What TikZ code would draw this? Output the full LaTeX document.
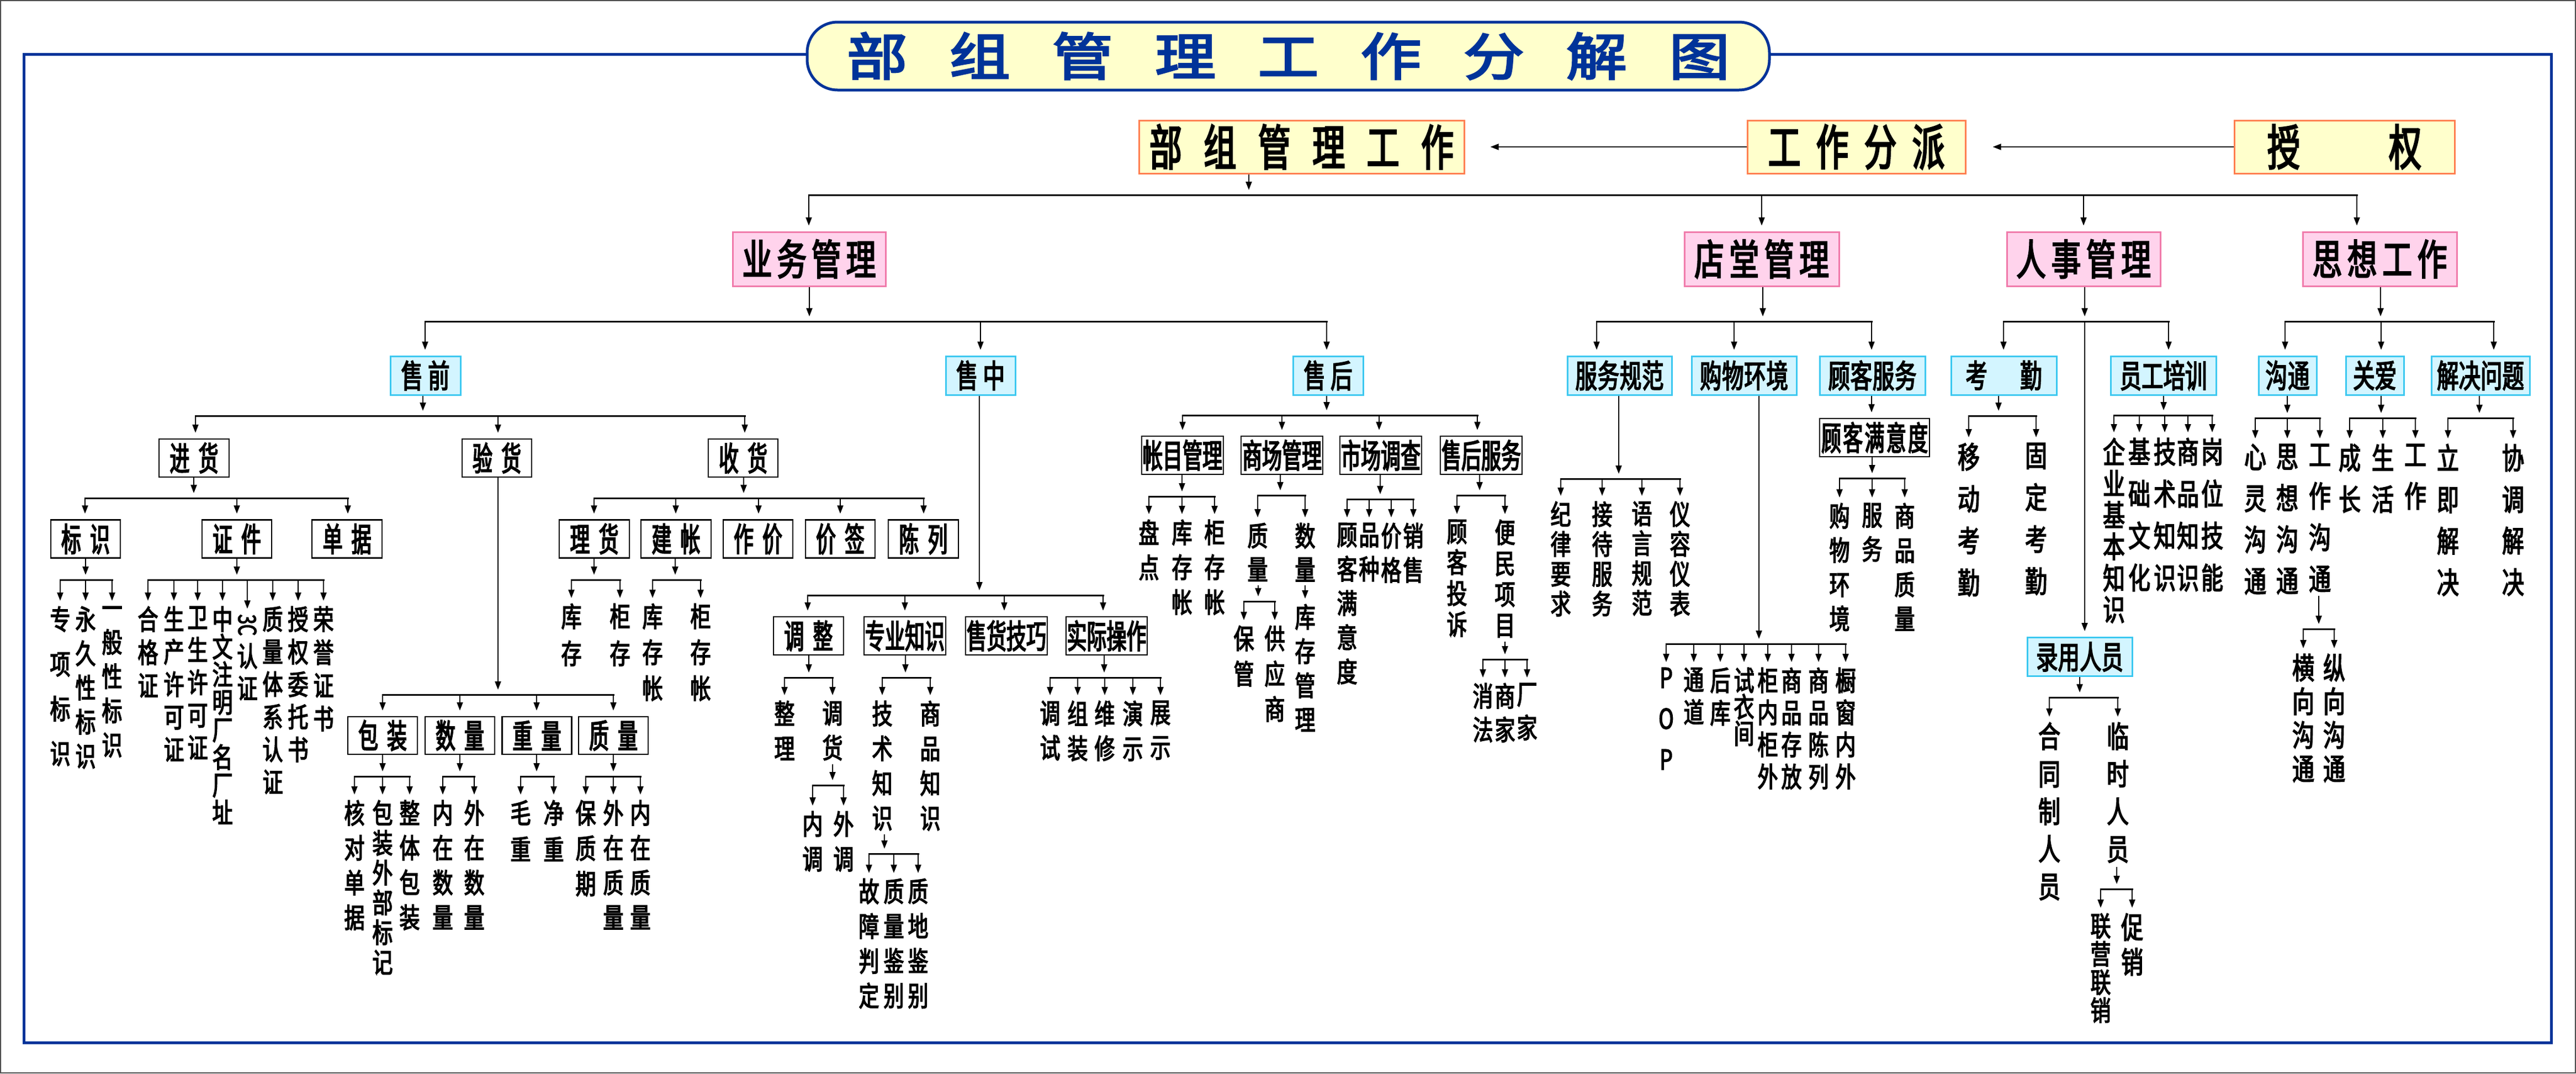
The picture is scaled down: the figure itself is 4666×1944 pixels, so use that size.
\documentclass[tikz,border=0pt]{standalone}
\usepackage{fontspec}
\usetikzlibrary{arrows.meta,calc}
\newfontfamily\fT[FakeStretch=1.2,FakeBold=3.5]{Noto Sans CJK SC}
\newfontfamily\fTop[FakeStretch=0.67,FakeBold=3]{Noto Sans CJK SC}
\newfontfamily\fP[FakeStretch=0.71,FakeBold=3]{Noto Sans CJK SC}
\newfontfamily\fC[FakeStretch=0.68,FakeBold=3]{Noto Sans CJK SC}
\newfontfamily\fK[FakeStretch=0.6,FakeBold=3]{Noto Sans CJK SC}
\newfontfamily\fL[FakeStretch=0.74,FakeBold=3]{Noto Sans CJK SC}
\definecolor{frameblue}{HTML}{003399}
\definecolor{topfill}{HTML}{FFFFCC}
\definecolor{toporange}{HTML}{FF7F50}
\definecolor{pinkfill}{HTML}{FFD3EC}
\definecolor{pinkline}{HTML}{F07AAA}
\definecolor{cyanfill}{HTML}{D3F5FF}
\definecolor{cyanline}{HTML}{3CC8F0}
\makeatletter
\newcommand\Spr[2]{\makebox[#1pt]{\@tempswafalse\@tfor\spr@c:=#2\do{\if@tempswa\hfill\fi\@tempswatrue\spr@c}}}
\newcommand\Vt[2]{\vbox{\baselineskip=#1pt\lineskiplimit=-1000pt\lineskip=0pt\@tfor\vt@c:=#2\do{\hbox to 60pt{\hss\vt@c\hss}}}}
\makeatother
\newcommand\Dr[3]{\draw[arr] (#1,#2) -- ($(#1,#2 |- #3.north)+(0,-10)$);}
\newcommand\Pa[3]{\draw[arr] (#1,0 |- #2.south) -- (#1,#3-9);}
\newcommand\Pl[3]{\draw[arr] ($(#1,0 |- #2.south)+(0,7)$) -- (#1,#3-9);}
\newcommand\Bus[3]{\draw[busl] (#2,#1) -- (#3,#1);}
\newcommand\Lv[7][leaf]{\node[#1] (#2) at (#3,#4) {\Vt{#5}{#6}}; \Dr{#3}{#7}{#2}}
\tikzset{
 arr/.style={line width=2pt, -{Triangle[length=15pt,width=11pt]}},
 busl/.style={line width=3pt, line cap=rect},
 topbox/.style={draw=toporange, fill=topfill, line width=3pt, minimum height=96pt, inner sep=0pt, font={\fTop\fontsize{88pt}{88pt}\selectfont}},
 pinkbox/.style={draw=pinkline, fill=pinkfill, line width=3pt, minimum height=98pt, inner sep=0pt, font={\fP\fontsize{76pt}{76pt}\selectfont}},
 cyanbox/.style={draw=cyanline, fill=cyanfill, line width=3pt, minimum height=70pt, inner sep=0pt, font={\fC\fontsize{58pt}{58pt}\selectfont}},
 kbox/.style={draw=black, fill=white, line width=2.5pt, minimum height=69pt, inner sep=0pt, font={\fK\fontsize{60pt}{60pt}\selectfont}},
 leaf/.style={anchor=north, inner sep=0pt, font={\fL\fontsize{50pt}{50pt}\selectfont}},
 leafB/.style={anchor=north, inner sep=0pt, font={\fL\fontsize{54pt}{54pt}\selectfont}},
}
\begin{document}
\begin{tikzpicture}[x=1pt,y=-1pt]
\useasboundingbox (0,0) rectangle (4666,1944);
\fill[white] (0,0) rectangle (4666,1944);
\draw[black!70, line width=2pt] (1,1) rectangle (4665,1943);
\draw[frameblue, line width=5pt] (43,98) rectangle (4621,1888);
\node[draw=frameblue, fill=topfill, line width=5pt, rounded corners=55pt, minimum width=1743pt, minimum height=123pt, inner sep=0pt, text=frameblue, font={\fT\fontsize{92pt}{92pt}\selectfont}] (title) at (2333.5,101.5) {\Spr{1600}{部组管理工作分解图}};
% top row
\node[topbox, minimum width=589pt] (t1) at (2357.5,266) {\Spr{551}{部组管理工作}};
\node[topbox, minimum width=395pt] (t2) at (3362.5,266) {\Spr{320}{工作分派}};
\node[topbox, minimum width=399pt] (t3) at (4246.5,266) {\Spr{279}{授权}};
\draw[arr] (t2.west) -- ($(t1.east)+(46,0)$);
\draw[arr] (t3.west) -- ($(t2.east)+(48,0)$);
% level 2
\node[pinkbox, minimum width=277pt] (p1) at (1465.5,469) {\Spr{242}{业务管理}};
\node[pinkbox, minimum width=280pt] (p2) at (3191,469) {\Spr{244}{店堂管理}};
\node[pinkbox, minimum width=278pt] (p3) at (3774,469) {\Spr{244}{人事管理}};
\node[pinkbox, minimum width=279pt] (p4) at (4310.5,469) {\Spr{244}{思想工作}};
\Pa{2262}{t1}{353} \Bus{353}{1465}{4269}
\Dr{1465}{353}{p1} \Dr{3191}{353}{p2} \Dr{3774}{353}{p3} \Dr{4269}{353}{p4}
% level 3
\node[cyanbox, minimum width=127pt] (c1) at (770.5,680) {\Spr{88}{售前}};
\node[cyanbox, minimum width=126pt] (c2) at (1776,680) {\Spr{88}{售中}};
\node[cyanbox, minimum width=127pt] (c3) at (2405.5,680) {\Spr{88}{售后}};
\node[cyanbox, minimum width=189pt] (c4) at (2933.5,680) {\Spr{160}{服务规范}};
\node[cyanbox, minimum width=190pt] (c5) at (3159,680) {\Spr{160}{购物环境}};
\node[cyanbox, minimum width=191pt] (c6) at (3391.5,680) {\Spr{160}{顾客服务}};
\node[cyanbox, minimum width=191pt] (c7) at (3629.5,680) {\Spr{138}{考勤}};
\node[cyanbox, minimum width=191pt] (c8) at (3918.5,680) {\Spr{154}{员工培训}};
\node[cyanbox, minimum width=105pt] (c9) at (4143.5,680) {\Spr{80}{沟通}};
\node[cyanbox, minimum width=105pt] (c10) at (4301.5,680) {\Spr{78}{关爱}};
\node[cyanbox, minimum width=178pt] (c11) at (4493,680) {\Spr{158}{解决问题}};
\node[cyanbox, minimum width=190pt] (c12) at (3767,1189.5) {\Spr{154}{录用人员}};
% 业务管理
\Pa{1466}{p1}{582} \Bus{582}{770}{2403}
\Dr{770}{582}{c1} \Dr{1776}{582}{c2} \Dr{2403}{582}{c3}
% 售前
\node[kbox, minimum width=127pt] (k1) at (351.5,829.5) {\Spr{88}{进货}};
\node[kbox, minimum width=126pt] (k2) at (900,829.5) {\Spr{88}{验货}};
\node[kbox, minimum width=126pt] (k3) at (1346,829.5) {\Spr{88}{收货}};
\Pa{766}{c1}{753} \Bus{753}{354}{1349}
\Dr{354}{753}{k1} \Dr{902}{753}{k2} \Dr{1349}{753}{k3}
% 进货
\node[kbox, minimum width=126pt] (k11) at (155,976) {\Spr{88}{标识}};
\node[kbox, minimum width=126pt] (k12) at (429,976) {\Spr{88}{证件}};
\node[kbox, minimum width=127pt] (k13) at (628.5,976) {\Spr{88}{单据}};
\Pa{351}{k1}{902} \Bus{902}{154}{630}
\Dr{154}{902}{k11} \Dr{429}{902}{k12} \Dr{630}{902}{k13}
\Pa{155}{k11}{1050} \Bus{1050}{109}{203}
\Lv{l1}{109}{1098}{81}{专项标识}{1050}
\Lv{l2}{155}{1098}{62}{永久性标识}{1050}
\Lv{l3}{203}{1098}{62}{一般性标识}{1050}
\Pa{429}{k12}{1050} \Bus{1050}{268}{586}
\Lv{z1}{268}{1098}{60}{合格证}{1050}
\Lv{z2}{315}{1098}{59}{生产许可证}{1050}
\Lv{z3}{358}{1098}{59}{卫生许可证}{1050}
\Lv{z4}{403}{1098}{50}{中文注明厂名厂址}{1050}
\node[inner sep=0pt, rotate=-90, font={\fL\fontsize{44pt}{44pt}\selectfont}] (z5a) at (448,1132) {3C};
\draw[arr] (448,1050) -- ($(z5a.west)+(0,-10)$);
\node[leaf] (z5) at (448,1165) {\Vt{58}{认证}};
\Lv{z6}{494}{1098}{59}{质量体系认证}{1050}
\Lv{z7}{540}{1098}{59}{授权委托书}{1050}
\Lv{z8}{586}{1098}{60}{荣誉证书}{1050}
% 验货
\node[kbox, minimum width=126pt, minimum height=68pt] (k21) at (693,1332) {\Spr{88}{包装}};
\node[kbox, minimum width=126pt, minimum height=68pt] (k22) at (833,1332) {\Spr{88}{数量}};
\node[kbox, minimum width=126pt, minimum height=68pt] (k23) at (972.5,1332) {\Spr{88}{重量}};
\node[kbox, minimum width=126pt, minimum height=68pt] (k24) at (1111,1332) {\Spr{88}{质量}};
\Pa{902}{k2}{1258} \Bus{1258}{693}{1111}
\Dr{693}{1258}{k21} \Dr{833}{1258}{k22} \Dr{972}{1258}{k23} \Dr{1111}{1258}{k24}
\Pa{693}{k21}{1406} \Bus{1406}{642}{742}
\Pa{833}{k22}{1406} \Bus{1406}{802}{859}
\Pa{972}{k23}{1406} \Bus{1406}{943}{1003}
\Pa{1111}{k24}{1406} \Bus{1406}{1061}{1160}
\Lv{y1}{642}{1449}{63}{核对单据}{1406}
\Lv{y2}{693}{1449}{54}{包装外部标记}{1406}
\Lv{y3}{742}{1449}{63}{整体包装}{1406}
\Lv{y4}{802}{1449}{63}{内在数量}{1406}
\Lv{y5}{859}{1449}{63}{外在数量}{1406}
\Lv{y6}{943}{1449}{66}{毛重}{1406}
\Lv{y7}{1003}{1449}{66}{净重}{1406}
\Lv{y8}{1061}{1449}{64}{保质期}{1406}
\Lv{y9}{1111}{1449}{63}{外在质量}{1406}
\Lv{y10}{1160}{1449}{63}{内在质量}{1406}
% 收货
\node[kbox, minimum width=127pt] (k31) at (1076.5,976) {\Spr{88}{理货}};
\node[kbox, minimum width=127pt] (k32) at (1224.5,976) {\Spr{88}{建帐}};
\node[kbox, minimum width=126pt] (k33) at (1373,976) {\Spr{88}{作价}};
\node[kbox, minimum width=126pt] (k34) at (1522,976) {\Spr{88}{价签}};
\node[kbox, minimum width=127pt] (k35) at (1672.5,976) {\Spr{88}{陈列}};
\Pa{1347}{k3}{902} \Bus{902}{1076}{1673}
\Dr{1076}{902}{k31} \Dr{1224}{902}{k32} \Dr{1374}{902}{k33} \Dr{1522}{902}{k34} \Dr{1673}{902}{k35}
\Pa{1076}{k31}{1050} \Bus{1050}{1035}{1123}
\Pa{1223}{k32}{1050} \Bus{1050}{1182}{1269}
\Lv{h1}{1035}{1093}{67}{库存}{1050}
\Lv{h2}{1123}{1093}{67}{柜存}{1050}
\Lv{h3}{1182}{1093}{65}{库存帐}{1050}
\Lv{h4}{1269}{1093}{65}{柜存帐}{1050}
% 售中
\node[kbox, minimum width=127pt] (m1) at (1464.5,1151.5) {\Spr{88}{调整}};
\node[kbox, minimum width=148pt] (m2) at (1639,1151.5) {\Spr{144}{专业知识}};
\node[kbox, minimum width=148pt] (m3) at (1823,1151.5) {\Spr{144}{售货技巧}};
\node[kbox, minimum width=147pt] (m4) at (2004.5,1151.5) {\Spr{144}{实际操作}};
\Pa{1774}{c2}{1078} \Bus{1078}{1463}{1998}
\Dr{1463}{1078}{m1} \Dr{1639}{1078}{m2} \Dr{1819}{1078}{m3} \Dr{1998}{1078}{m4}
\Pa{1465}{m1}{1227} \Bus{1227}{1421}{1508}
\Lv{n1}{1421}{1269}{63}{整理}{1227}
\Lv{n2}{1508}{1269}{63}{调货}{1227}
\Pl{1508}{n2}{1422} \Bus{1422}{1472}{1528}
\Lv{n3}{1472}{1469}{63}{内调}{1422}
\Lv{n4}{1528}{1469}{63}{外调}{1422}
\Pa{1640}{m2}{1227} \Bus{1227}{1598}{1685}
\Lv{n5}{1598}{1269}{63}{技术知识}{1227}
\Lv{n6}{1685}{1269}{63}{商品知识}{1227}
\Pl{1602}{n5}{1546} \Bus{1546}{1574}{1663}
\Lv{n7}{1574}{1591}{63}{故障判定}{1546}
\Lv{n8}{1619}{1591}{63}{质量鉴别}{1546}
\Lv{n9}{1663}{1591}{63}{质地鉴别}{1546}
\Pa{2000}{m4}{1227} \Bus{1227}{1902}{2102}
\Lv{n10}{1902}{1269}{63}{调试}{1227}
\Lv{n11}{1952}{1269}{63}{组装}{1227}
\Lv{n12}{2001}{1269}{63}{维修}{1227}
\Lv{n13}{2052}{1269}{63}{演示}{1227}
\Lv{n14}{2102}{1269}{63}{展示}{1227}
% 售后
\node[kbox, minimum width=148pt] (a1) at (2142,824.5) {\Spr{144}{帐目管理}};
\node[kbox, minimum width=148pt] (a2) at (2322,824.5) {\Spr{144}{商场管理}};
\node[kbox, minimum width=148pt] (a3) at (2501,824.5) {\Spr{144}{市场调查}};
\node[kbox, minimum width=148pt] (a4) at (2683,824.5) {\Spr{144}{售后服务}};
\Pa{2403}{c3}{752} \Bus{752}{2142}{2676}
\Dr{2142}{752}{a1} \Dr{2322}{752}{a2} \Dr{2498}{752}{a3} \Dr{2676}{752}{a4}
\Pa{2141}{a1}{899} \Bus{899}{2081}{2200}
\Lv{q1}{2081}{941}{63}{盘点}{899}
\Lv{q2}{2141}{941}{63}{库存帐}{899}
\Lv{q3}{2200}{941}{63}{柜存帐}{899}
\Pa{2319}{a2}{897} \Bus{897}{2278}{2364}
\Lv{q4}{2278}{947}{61}{质量}{897}
\Lv{q5}{2364}{947}{61}{数量}{897}
\Pl{2279}{q4}{1089} \Bus{1089}{2253}{2309}
\Lv{q6}{2253}{1133}{64}{保管}{1089}
\Lv{q7}{2309}{1133}{64}{供应商}{1089}
\node[leaf] (q8) at (2364,1094) {\Vt{62}{库存管理}};
\draw[arr] ($(q5.south)+(0,7)$) -- ($(q8.north)+(0,-10)$);
\Pa{2500}{a3}{904} \Bus{904}{2440}{2560}
\Lv{q9}{2440}{947}{62}{顾客满意度}{904}
\Lv{q10}{2480}{947}{62}{品种}{904}
\Lv{q11}{2520}{947}{62}{价格}{904}
\Lv{q12}{2560}{947}{62}{销售}{904}
\Pa{2680}{a4}{897} \Bus{897}{2639}{2726}
\Lv{q13}{2639}{941}{56}{顾客投诉}{897}
\Lv{q14}{2726}{941}{56}{便民项目}{897}
\Pl{2726}{q14}{1194} \Bus{1194}{2686}{2766}
\Lv{q15}{2686}{1237}{61}{消法}{1194}
\Lv{q16}{2726}{1237}{61}{商家}{1194}
\Lv{q17}{2766}{1237}{61}{厂家}{1194}
% 店堂管理
\Pa{3193}{p2}{582} \Bus{582}{2892}{3390}
\Dr{2892}{582}{c4} \Dr{3141}{582}{c5} \Dr{3390}{582}{c6}
\Pa{2932}{c4}{867} \Bus{867}{2827}{3043}
\Lv{d1}{2827}{908}{54}{纪律要求}{867}
\Lv{d2}{2902}{908}{54}{接待服务}{867}
\Lv{d3}{2974}{908}{54}{语言规范}{867}
\Lv{d4}{3043}{908}{54}{仪容仪表}{867}
\Pa{3186}{c5}{1166} \Bus{1166}{3018}{3343}
\Lv{d5}{3018}{1209}{74}{POP}{1166}
\Lv{d6}{3068}{1209}{59}{通道}{1166}
\Lv{d7}{3116}{1209}{59}{后库}{1166}
\Lv{d8}{3159}{1209}{48}{试衣间}{1166}
\Lv{d9}{3202}{1209}{58}{柜内柜外}{1166}
\Lv{d10}{3245}{1209}{58}{商品存放}{1166}
\Lv{d11}{3294}{1209}{58}{商品陈列}{1166}
\Lv{d12}{3343}{1209}{58}{橱窗内外}{1166}
\node[kbox, minimum width=199pt] (s1) at (3395.5,792.5) {\Spr{193}{顾客满意度}};
\draw[arr] (3390,0 |- c6.south) -- ($(3390,0 |- s1.north)+(0,-10)$);
\Pa{3391}{s1}{866} \Bus{866}{3332}{3450}
\Lv{d13}{3332}{911}{62}{购物环境}{866}
\Lv{d14}{3391}{911}{62}{服务}{866}
\Lv{d15}{3450}{911}{62}{商品质量}{866}
% 人事管理
\Pa{3776}{p3}{582} \Bus{582}{3629}{3928}
\Dr{3629}{582}{c7} \Dr{3928}{582}{c8} \Dr{3776}{582}{c12}
\Pa{3620}{c7}{753} \Bus{753}{3566}{3688}
\Lv[leafB]{r1}{3566}{802}{76}{移动考勤}{753}
\Lv[leafB]{r2}{3688}{802}{76}{固定考勤}{753}
\Pa{3919}{c8}{752} \Bus{752}{3829}{4007}
\Lv[leafB]{r3}{3829}{793}{57}{企业基本知识}{752}
\Lv[leafB]{r4}{3875}{793}{76}{基础文化}{752}
\Lv[leafB]{r5}{3921}{793}{76}{技术知识}{752}
\Lv[leafB]{r6}{3963}{793}{76}{商品知识}{752}
\Lv[leafB]{r7}{4007}{793}{76}{岗位技能}{752}
\Pa{3767}{c12}{1263} \Bus{1263}{3712}{3836}
\Lv[leafB]{r8}{3712}{1308}{68}{合同制人员}{1263}
\Lv[leafB]{r9}{3836}{1308}{68}{临时人员}{1263}
\Pl{3834}{r9}{1610} \Bus{1610}{3805}{3862}
\Lv{r10}{3805}{1654}{51}{联营联销}{1610}
\Lv[leafB]{r11}{3862}{1654}{63}{促销}{1610}
% 思想工作
\Pa{4312}{p4}{582} \Bus{582}{4139}{4517}
\Dr{4139}{582}{c9} \Dr{4313}{582}{c10} \Dr{4517}{582}{c11}
\Pa{4143}{c9}{757} \Bus{757}{4085}{4202}
\Lv[leafB]{g1}{4085}{804}{75}{心灵沟通}{757}
\Lv[leafB]{g2}{4143}{804}{75}{思想沟通}{757}
\Lv[leafB]{g3}{4202}{804}{75}{工作沟通}{757}
\Pl{4200}{g3}{1139} \Bus{1139}{4172}{4228}
\Lv[leafB]{g4}{4172}{1184}{61}{横向沟通}{1139}
\Lv[leafB]{g5}{4228}{1184}{61}{纵向沟通}{1139}
\Pa{4313}{c10}{757} \Bus{757}{4256}{4375}
\Lv[leafB]{g6}{4256}{804}{75}{成长}{757}
\Lv[leafB]{g7}{4316}{804}{75}{生活}{757}
\Lv[leafB]{g8}{4375}{804}{75}{工作}{757}
\Pa{4491}{c11}{757} \Bus{757}{4434}{4552}
\Lv[leafB]{g9}{4434}{804}{75}{立即解决}{757}
\Lv[leafB]{g10}{4552}{804}{75}{协调解决}{757}
\end{tikzpicture}
\end{document}
